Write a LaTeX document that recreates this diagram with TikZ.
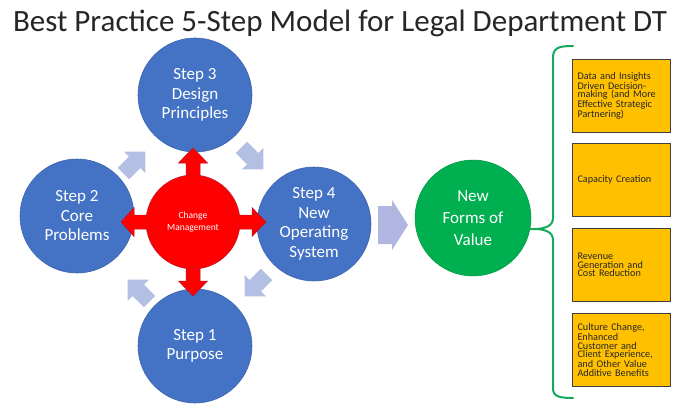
\documentclass[tikz,border=0pt]{standalone}
\usepackage{fontspec}
\setmainfont{Carlito}
\definecolor{stepblue}{HTML}{4472C4}
\definecolor{stepedge}{HTML}{3A63AD}
\definecolor{cmred}{HTML}{FF0000}
\definecolor{cmedge}{HTML}{C0102A}
\definecolor{valuegreen}{HTML}{00B050}
\definecolor{bracegreen}{HTML}{17A85A}
\definecolor{flowblue}{HTML}{B3C0E3}
\definecolor{bigflow}{HTML}{B0B6E0}
\definecolor{boxorange}{HTML}{FFC000}
\definecolor{boxedge}{HTML}{3F3F3F}
\definecolor{boxtext}{HTML}{262626}
\begin{document}
\begin{tikzpicture}[x=1pt,y=-1pt,
  stepcircle/.style={circle, fill=stepblue, draw=stepedge, line width=0.6pt,
    minimum size=114pt, inner sep=0pt, text=white, align=center,
    font=\fontsize{17}{19.5}\selectfont},
  cmcircle/.style={circle, fill=cmred, draw=cmedge, line width=0.5pt,
    minimum size=94pt, inner sep=0pt, text=white, align=center,
    font=\fontsize{9.5}{11.5}\selectfont},
  valuecircle/.style={circle, fill=valuegreen, draw=valuegreen!85!black, line width=0.5pt,
    minimum size=116pt, inner sep=0pt, text=white, align=center,
    font=\fontsize{17}{22}\selectfont},
  valuebox/.style={rectangle, fill=boxorange, draw=boxedge, line width=0.9pt,
    minimum width=98pt, minimum height=73pt, text width=87pt, inner xsep=5pt,
    align=left, text=boxtext, font=\fontsize{10.2}{8.7}\selectfont},
  flowarrow/.style={fill=flowblue, draw=none},
  bracestyle/.style={draw=bracegreen, line width=2pt, line cap=round}
]
\useasboundingbox (0,0) rectangle (679,409);
\fill[white] (0,0) rectangle (679,409);

% title
\node[anchor=base, inner sep=0pt, font=\fontsize{31}{36}\selectfont, text=black!85]
  (title) at (340,32) {Best Practice 5-Step Model for Legal Department DT};

% cycle of steps
\node[stepcircle] (s3) at (195,95)  {Step 3\\Design\\Principles};
\node[stepcircle] (s2) at (77,216)  {Step 2\\Core\\Problems};
\node[stepcircle] (s4) at (314,224) {Step 4\\New\\Operating\\System};
\node[stepcircle] (s1) at (195,346) {Step 1\\Purpose};

% block arrows between the steps
\foreach \cx/\cy/\ang in {134/163/45, 252/158/-45, 256/285/-135, 139/291/135}{
  \begin{scope}[shift={(\cx,\cy)}, rotate=\ang]
    \fill[flowarrow] (-15,-8) -- (1,-8) -- (1,-15) -- (16,0) -- (1,15) -- (1,8) -- (-15,8) -- cycle;
  \end{scope}
}

% four-way arrow behind change management
\begin{scope}[shift={(193,222)}]
  \filldraw[fill=cmred, draw=cmedge, line width=0.5pt]
    (-7,-59) -- (-14.5,-59) -- (0,-74) -- (14.5,-59) -- (7,-59) -- (7,-7)
    -- (59,-7) -- (59,-14.5) -- (73,0) -- (59,14.5) -- (59,7) -- (7,7)
    -- (7,59) -- (14.5,59) -- (0,74) -- (-14.5,59) -- (-7,59) -- (-7,7)
    -- (-59,7) -- (-59,14.5) -- (-72,0) -- (-59,-14.5) -- (-59,-7) -- (-7,-7) -- cycle;
\end{scope}
\node[cmcircle] (cm) at (193,222) {Change\\Management};

% arrow towards the value circle
\fill[fill=bigflow] (378,206) -- (392,206) -- (392,200) -- (408,225)
  -- (392,250) -- (392,244) -- (378,244) -- cycle;

\node[valuecircle] (value) at (473,218) {New\\Forms of\\Value};

% brace grouping the value boxes
\coordinate (bracetip) at (534,229);
\draw[bracestyle] (573,46) .. controls (558,46) and (553,48) .. (553,58) -- (553,218)
  .. controls (553,226) and (545,229) .. (bracetip)
  .. controls (545,229) and (553,232) .. (553,240) -- (553,388)
  .. controls (553,396) and (558,398) .. (573,398);
\draw[bracestyle] (value.-11) -- (bracetip);

\node[valuebox] (v1) at (621,96)  {Data and Insights\\Driven Decision-\\making (and More\\Effective Strategic\\Partnering)};
\node[valuebox] (v2) at (621,180) {Capacity Creation};
\node[valuebox] (v3) at (621,265) {Revenue\\Generation and\\Cost Reduction};
\node[valuebox] (v4) at (621,350) {Culture Change,\\Enhanced\\Customer and\\Client Experience,\\and Other Value\\Additive Benefits};
\end{tikzpicture}
\end{document}
